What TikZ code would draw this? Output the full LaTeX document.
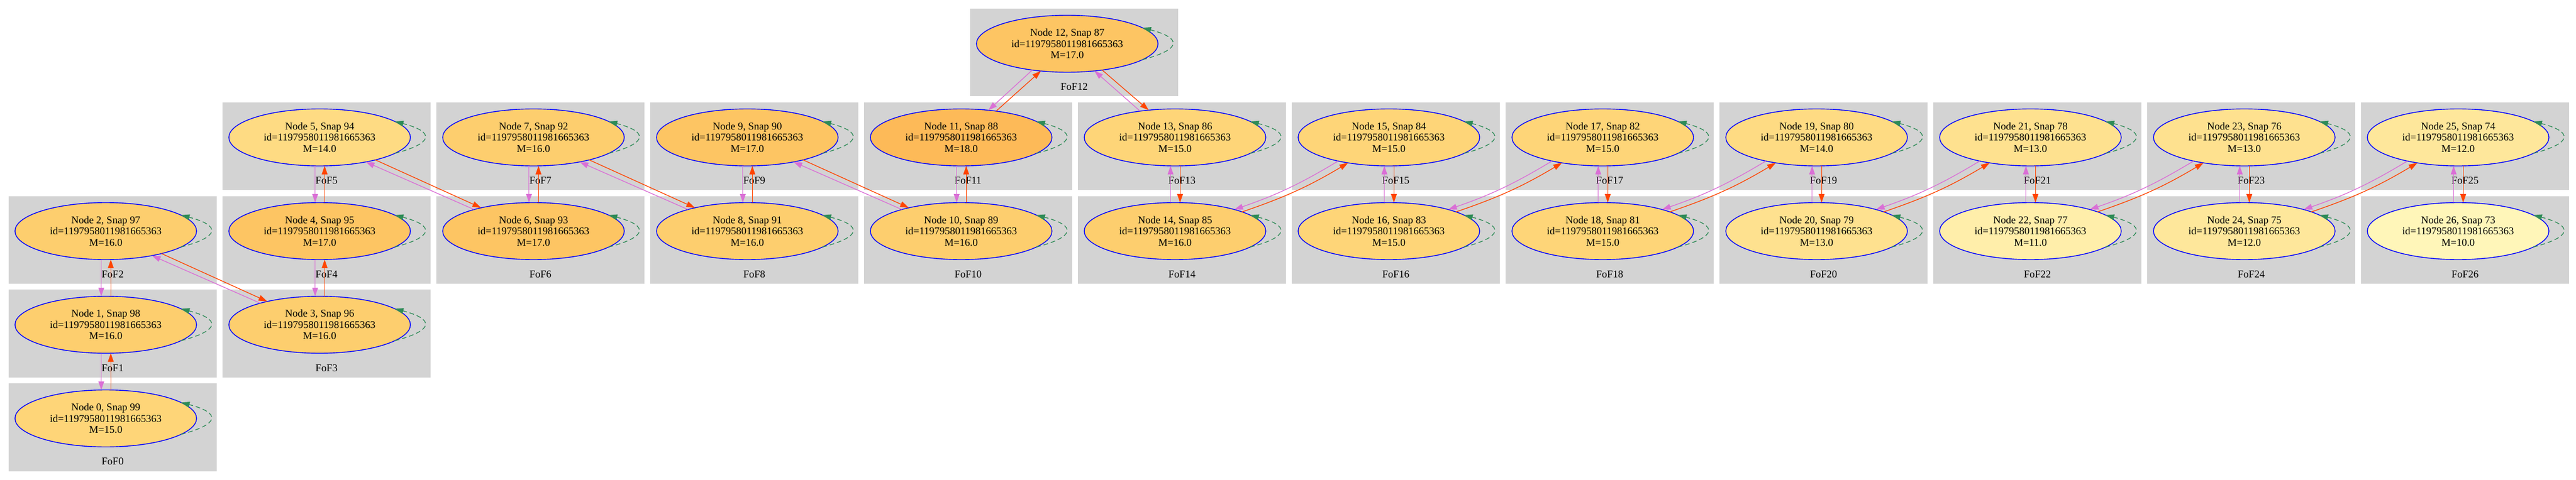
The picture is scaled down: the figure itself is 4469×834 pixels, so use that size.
\documentclass[tikz,border=0pt]{standalone}
\usepackage{fontspec}
\setmainfont{Liberation Serif}
\usetikzlibrary{arrows.meta,shapes.geometric}
\definecolor{clu}{HTML}{D3D3D3}
\definecolor{orng}{HTML}{FF4500}
\definecolor{vio}{HTML}{DA70D6}
\definecolor{sgreen}{HTML}{2E8B57}
\definecolor{m10}{RGB}{255,246,185}
\definecolor{m11}{RGB}{255,238,170}
\definecolor{m12}{RGB}{254,231,155}
\definecolor{m13}{RGB}{254,225,143}
\definecolor{m14}{RGB}{254,219,131}
\definecolor{m15}{RGB}{254,213,120}
\definecolor{m16}{RGB}{253,206,110}
\definecolor{m17}{RGB}{253,197,99}
\definecolor{m18}{RGB}{253,186,88}
\tikzset{
  fofn/.style={ellipse, draw=blue, line width=1.4pt, minimum width=315pt, minimum height=99pt,
    inner sep=0pt, outer sep=0pt, align=center, font=\fontsize{18}{19.5}\selectfont},
  fofl/.style={font=\fontsize{18}{19.5}\selectfont, inner sep=0pt},
  oe/.style={draw=orng, line width=1.3pt, -{Triangle[length=15pt,width=10pt]}},
  ve/.style={draw=vio, line width=1.3pt, -{Triangle[length=15pt,width=10pt]}},
  selfloop/.style={draw=sgreen, line width=1.3pt, dash pattern=on 8pt off 5pt,
    -{Triangle[length=15pt,width=10pt]}},
}
% name, cx, cy (downwards), number, snap, mass, colour
\newcommand{\fofcl}[7]{%
  \fill[clu] (#2-168.5,-#3+61) rectangle ++(361,-152.5);
  \node[fofl] (l#1) at (#2+12,-#3-75) {FoF#4};
  \node[fofn, fill=#7] (#1) at (#2,-#3) {Node #4, Snap #5\\id=1197958011981665363\\M=#6};
}
\newcommand{\fofloop}[1]{\draw[selfloop] (#1.-12.8) .. controls +(68.7,17.9) and +(68.7,-17.9) .. (#1.12.8);}
% vertical, orange up: lower, upper
\newcommand{\vup}[2]{\draw[oe] (#1.80.2) -- (#2.-80.2); \draw[ve] (#2.-99.8) -- (#1.99.8);}
% vertical, orange down: upper, lower
\newcommand{\vdn}[2]{\draw[oe] (#1.-80.2) -- (#2.80.2); \draw[ve] (#2.99.8) -- (#1.-99.8);}
% diagonal A: upper-left, lower-right
\newcommand{\dga}[2]{\draw[oe] (#1.-22.8) -- (#2.156.0); \draw[ve] (#2.160.8) -- (#1.-28.2);}
% diagonal B: lower-left, upper-right
\newcommand{\dgb}[2]{\draw[oe] (#1.16.2) to[bend right=6] (#2.212.6); \draw[ve] (#2.205.9) to[bend left=6] (#1.20.2);}
\begin{document}
\begin{tikzpicture}[x=1pt,y=1pt]
\useasboundingbox (0,0) rectangle (4469,-834);
\fofcl{n0}{183.5}{727}{0}{99}{15.0}{m15}
\fofcl{n1}{183.5}{564.25}{1}{98}{16.0}{m16}
\fofcl{n2}{183.5}{401.5}{2}{97}{16.0}{m16}
\fofcl{n3}{554.5}{564.25}{3}{96}{16.0}{m16}
\fofcl{n4}{554.5}{401.5}{4}{95}{17.0}{m17}
\fofcl{n5}{554.5}{238.75}{5}{94}{14.0}{m14}
\fofcl{n6}{925.5}{401.5}{6}{93}{17.0}{m17}
\fofcl{n7}{925.5}{238.75}{7}{92}{16.0}{m16}
\fofcl{n8}{1296.5}{401.5}{8}{91}{16.0}{m16}
\fofcl{n9}{1296.5}{238.75}{9}{90}{17.0}{m17}
\fofcl{n10}{1667.5}{401.5}{10}{89}{16.0}{m16}
\fofcl{n11}{1667.5}{238.75}{11}{88}{18.0}{m18}
\fofcl{n12}{1851.5}{76}{12}{87}{17.0}{m17}
\fofcl{n13}{2038.5}{238.75}{13}{86}{15.0}{m15}
\fofcl{n14}{2038.5}{401.5}{14}{85}{16.0}{m16}
\fofcl{n15}{2409.5}{238.75}{15}{84}{15.0}{m15}
\fofcl{n16}{2409.5}{401.5}{16}{83}{15.0}{m15}
\fofcl{n17}{2780.5}{238.75}{17}{82}{15.0}{m15}
\fofcl{n18}{2780.5}{401.5}{18}{81}{15.0}{m15}
\fofcl{n19}{3151.5}{238.75}{19}{80}{14.0}{m14}
\fofcl{n20}{3151.5}{401.5}{20}{79}{13.0}{m13}
\fofcl{n21}{3522.5}{238.75}{21}{78}{13.0}{m13}
\fofcl{n22}{3522.5}{401.5}{22}{77}{11.0}{m11}
\fofcl{n23}{3893.5}{238.75}{23}{76}{13.0}{m13}
\fofcl{n24}{3893.5}{401.5}{24}{75}{12.0}{m12}
\fofcl{n25}{4264.5}{238.75}{25}{74}{12.0}{m12}
\fofcl{n26}{4264.5}{401.5}{26}{73}{10.0}{m10}
\foreach \k in {0,...,26} {\fofloop{n\k}}
\vup{n0}{n1}
\vup{n1}{n2}
\dga{n2}{n3}
\vup{n3}{n4}
\vup{n4}{n5}
\dga{n5}{n6}
\vup{n6}{n7}
\dga{n7}{n8}
\vup{n8}{n9}
\dga{n9}{n10}
\vup{n10}{n11}
\draw[oe] (n11.37.6) -- (n12.226.5);
\draw[ve] (n12.217.3) -- (n11.45.9);
\draw[oe] (n12.-37.4) -- (n13.134.7);
\draw[ve] (n13.143.3) -- (n12.-45.7);
\vdn{n13}{n14}
\dgb{n14}{n15}
\vdn{n15}{n16}
\dgb{n16}{n17}
\vdn{n17}{n18}
\dgb{n18}{n19}
\vdn{n19}{n20}
\dgb{n20}{n21}
\vdn{n21}{n22}
\dgb{n22}{n23}
\vdn{n23}{n24}
\dgb{n24}{n25}
\vdn{n25}{n26}
\end{tikzpicture}
\end{document}
